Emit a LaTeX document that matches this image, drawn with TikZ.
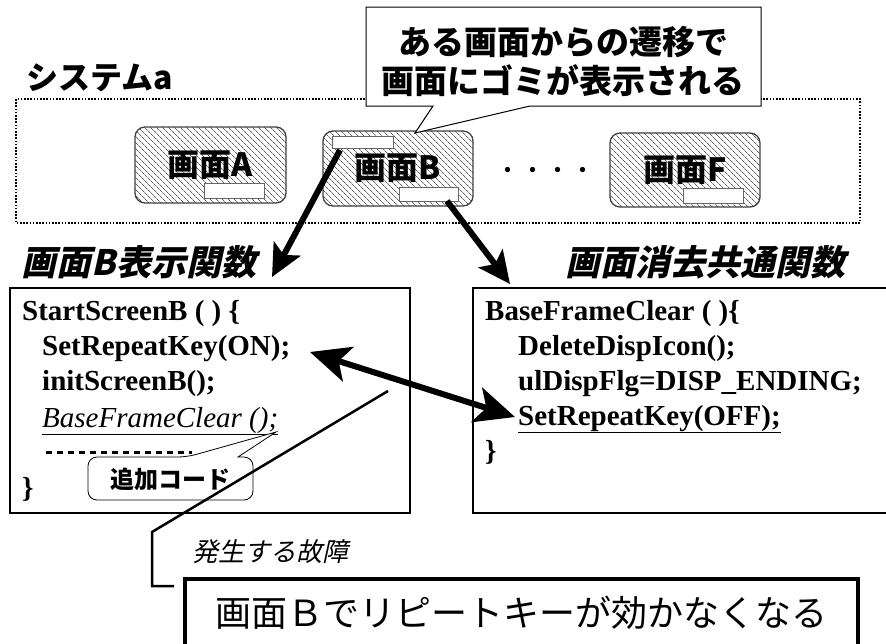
\documentclass[tikz,border=0pt]{standalone}
\usepackage{fontspec}
\setmainfont{Liberation Serif}
\newfontfamily\jp{Noto Sans CJK JP}
\newfontfamily\jpit{Noto Sans CJK JP}[FakeSlant=0.22]
\usetikzlibrary{arrows.meta,patterns.meta}
\tikzset{
  screen/.style={draw=black!75, line width=1.3pt, rounded corners=10pt,
    pattern={Lines[angle=-45,distance=4pt,line width=0.7pt]}, pattern color=black!62,
    inner sep=0pt, font=\jp\bfseries\fontsize{32}{32}\selectfont},
  wrect/.style={draw=black!60, line width=0.8pt, fill=white, inner sep=0pt},
  codebox/.style={draw, line width=1.2pt, inner sep=0pt},
  code/.style={anchor=base west, inner sep=0pt, font=\bfseries\fontsize{29}{35}\selectfont},
  jptitle/.style={inner sep=0pt, font=\jpit\bfseries\fontsize{35}{35}\selectfont},
  bigarrow/.style={line width=6pt, -{Stealth[length=32pt,width=30pt,inset=7pt]}},
  dblarrow/.style={line width=6pt, {Stealth[length=40pt,width=36pt,inset=10pt]}-{Stealth[length=40pt,width=36pt,inset=10pt]}},
}
\begin{document}
\begin{tikzpicture}[x=1pt,y=-1pt]
\useasboundingbox (0,0) rectangle (886,643);
% system frame
\node[inner sep=0pt, font=\jp\bfseries\fontsize{32}{32}\selectfont] (sys) at (100,78) {システムa};
\draw[line width=1.6pt, dash pattern=on 1.6pt off 1.6pt] (16,99) rectangle (860,223);
% screens
\node[screen, minimum width=151pt, minimum height=76pt] (scrA) at (210.5,165) {画面A};
\node[wrect, minimum width=60pt, minimum height=15pt] (scrAr) at (234,190.5) {};
\node[screen, minimum width=150pt, minimum height=75pt] (scrB) at (398,168.5) {画面B};
\node[wrect, minimum width=61pt, minimum height=12pt] (scrBt) at (362.5,142.5) {};
\node[wrect, minimum width=59pt, minimum height=14pt] (scrBb) at (428.5,194) {};
\node[screen, minimum width=150pt, minimum height=74pt] (scrF) at (685,170) {画面F};
\node[wrect, minimum width=60pt, minimum height=15pt] (scrFr) at (713,195.5) {};
\node[inner sep=0pt, font=\jp\fontsize{25}{25}\selectfont] (dots) at (545,173) {・・・・};
% callout
\coordinate (calltip) at (415,133);
\draw[line width=1pt, fill=white] (366,7) -- (761,7) -- (761,106) -- (530,106) -- (calltip) -- (433,106) -- (366,106) -- cycle;
\node[inner sep=0pt, align=center, font=\jp\bfseries\fontsize{33}{39}\selectfont] (note) at (563,61) {ある画面からの遷移で\\画面にゴミが表示される};
% titles
\node[jptitle] (tL) at (139,262) {画面B表示関数};
\node[jptitle] (tR) at (705,262) {画面消去共通関数};
% code boxes
\node[codebox, minimum width=400pt, minimum height=225pt] (boxL) at (210,400.5) {};
\node[codebox, minimum width=420pt, minimum height=225pt] (boxR) at (683,400.5) {};
% left code
\node[code] (l1) at (22,320) {StartScreenB ( ) \{};
\node[code] (l2) at (42,355) {SetRepeatKey(ON);};
\node[code] (l3) at (42,390) {initScreenB();};
\node[code, font=\itshape\fontsize{29}{35}\selectfont] (l4) at (42,427) {\underline{BaseFrameClear ();}};
\node[code] (l6) at (22,497) {\}};
\draw[line width=3pt, dash pattern=on 6pt off 5pt] (46,452) -- (192,452);
% right code
\node[code] (r1) at (485,320) {BaseFrameClear ( )\{};
\node[code] (r2) at (518,355) {DeleteDispIcon();};
\node[code] (r3) at (518,390) {ulDispFlg=DISP\_ENDING;};
\node[code] (r4) at (518,425) {\underline{SetRepeatKey(OFF);}};
\node[code] (r5) at (485,460) {\}};
% added code callout
\coordinate (addtip) at (276,432);
\draw[line width=0.8pt, fill=white] (88,480) [rounded corners=9pt] -- (88,457) -- (187,457) [sharp corners] -- (addtip) -- (238,457) [rounded corners=9pt] -- (253,457) -- (253,500) -- (88,500) -- cycle;
\node[inner sep=0pt, font=\jp\bfseries\fontsize{24}{24}\selectfont] (add) at (170,479) {追加コード};
% arrows
\coordinate (a1s) at (340,150);
\coordinate (a1e) at (272,277);
\coordinate (a2s) at (447,201);
\coordinate (a2e) at (510,284);
\draw[bigarrow] (a1s) -- (a1e);
\draw[bigarrow] (a2s) -- (a2e);
\coordinate (dl) at (310,352);
\coordinate (dr) at (515,417);
\draw[dblarrow] (dl) -- (dr);
% failure
\node[inner sep=0pt, font=\jpit\fontsize{26}{26}\selectfont] (failt) at (270,552) {発生する故障};
\draw[line width=3.5pt] (185,660) |- (858,579) -- (858,660);
\node[draw=none, inner sep=0pt, minimum width=673pt, minimum height=81pt] (failbox) at (521.5,619.5) {};
\node[inner sep=0pt, font=\jp\fontsize{36}{36}\selectfont] (failtxt) at (521,613) {画面Ｂでリピートキーが効かなくなる};
\coordinate (ls) at (388,391);
\coordinate (lb1) at (152,532);
\coordinate (lb2) at (152,586);
\coordinate (le) at (174,586);
\draw[line width=2.5pt] (ls) -- (lb1) -- (lb2) -- (le);
\end{tikzpicture}
\end{document}
